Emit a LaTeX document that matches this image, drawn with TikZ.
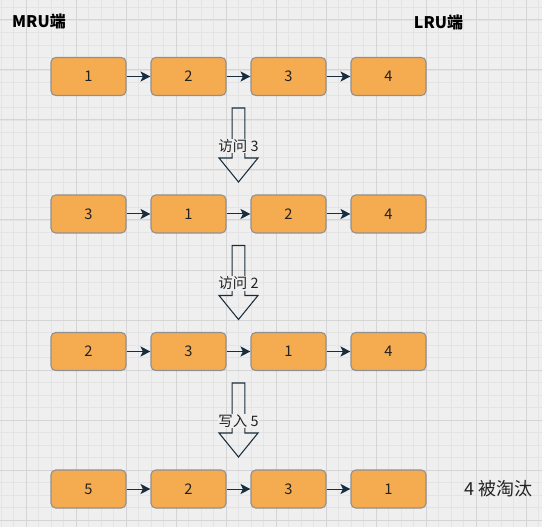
\documentclass[tikz,border=0pt]{standalone}
\usepackage{fontspec}
\setmainfont{Noto Sans CJK SC}
\usetikzlibrary{arrows.meta}
\definecolor{bgc}{HTML}{EFEFEF}
\definecolor{minorc}{HTML}{E4E4E4}
\definecolor{majorc}{HTML}{D5D5D5}
\definecolor{boxfill}{HTML}{F5AB50}
\definecolor{boxline}{HTML}{909090}
\definecolor{navy}{HTML}{182E3E}
\definecolor{txt}{HTML}{222222}
\tikzset{
  cell/.style={draw=boxline, fill=boxfill, line width=0.8pt, rounded corners=3.5pt,
    minimum width=56.25pt, minimum height=28.5pt, inner sep=0pt,
    text=txt, font=\fontsize{11}{12}\selectfont},
  link/.style={draw=navy, line width=0.75pt, -{Stealth[length=7.5pt,width=7.5pt,inset=1.8pt]}},
  blockarrow/.style={draw=navy, line width=0.8pt, line join=miter},
  steplabel/.style={fill=bgc, inner sep=0.5pt, text=txt, font=\fontsize{10.8}{12}\selectfont},
  endlabel/.style={text=black, font=\bfseries\fontsize{12}{14}\selectfont},
  notelabel/.style={text=txt, font=\fontsize{13.5}{15}\selectfont}
}
\begin{document}
\begin{tikzpicture}[x=0.75pt, y=-0.75pt]
\useasboundingbox (0,0) rectangle (542,527);
\fill[bgc] (0,0) rectangle (542,527);
\foreach \gx in {1,13.5,...,542} \draw[minorc, line width=0.6pt] (\gx,0) -- (\gx,527);
\foreach \gy in {7.5,20,...,527} \draw[minorc, line width=0.6pt] (0,\gy) -- (542,\gy);
\foreach \gx in {26,76,...,526} \draw[majorc, line width=0.75pt] (\gx,0) -- (\gx,527);
\foreach \gy in {20,70,...,520} \draw[majorc, line width=0.75pt] (0,\gy) -- (542,\gy);

\node[endlabel] (mru) at (39,21.5) {MRU端};
\node[endlabel] (lru) at (438.5,22) {LRU端};

% rows
\node[cell] (a1) at (88.5,76.5) {1};
\node[cell] (a2) at (188.5,76.5) {2};
\node[cell] (a3) at (288.5,76.5) {3};
\node[cell] (a4) at (388.5,76.5) {4};

\node[cell] (b1) at (88.5,214) {3};
\node[cell] (b2) at (188.5,214) {1};
\node[cell] (b3) at (288.5,214) {2};
\node[cell] (b4) at (388.5,214) {4};

\node[cell] (c1) at (88.5,351.5) {2};
\node[cell] (c2) at (188.5,351.5) {3};
\node[cell] (c3) at (288.5,351.5) {1};
\node[cell] (c4) at (388.5,351.5) {4};

\node[cell] (d1) at (88.5,489) {5};
\node[cell] (d2) at (188.5,489) {2};
\node[cell] (d3) at (288.5,489) {3};
\node[cell] (d4) at (388.5,489) {1};

\foreach \r in {a,b,c,d}{
  \draw[link] (\r1) -- (\r2);
  \draw[link] (\r2) -- (\r3);
  \draw[link] (\r3) -- (\r4);
}

% block arrows
\foreach \t/\lab/\n in {108/访问 3/s1, 245.5/访问 2/s2, 383/写入 5/s3}{
  \draw[blockarrow] (232.2,\t) -- (244.8,\t) -- (244.8,\t+50) -- (258,\t+50)
     -- (238.5,\t+74) -- (219,\t+50) -- (232.2,\t+50) -- cycle;
  \node[steplabel] (\n) at (238.5,\t+38) {\lab};
}

\node[notelabel] (note) at (498.5,489) {4 被淘汰};
\end{tikzpicture}
\end{document}
